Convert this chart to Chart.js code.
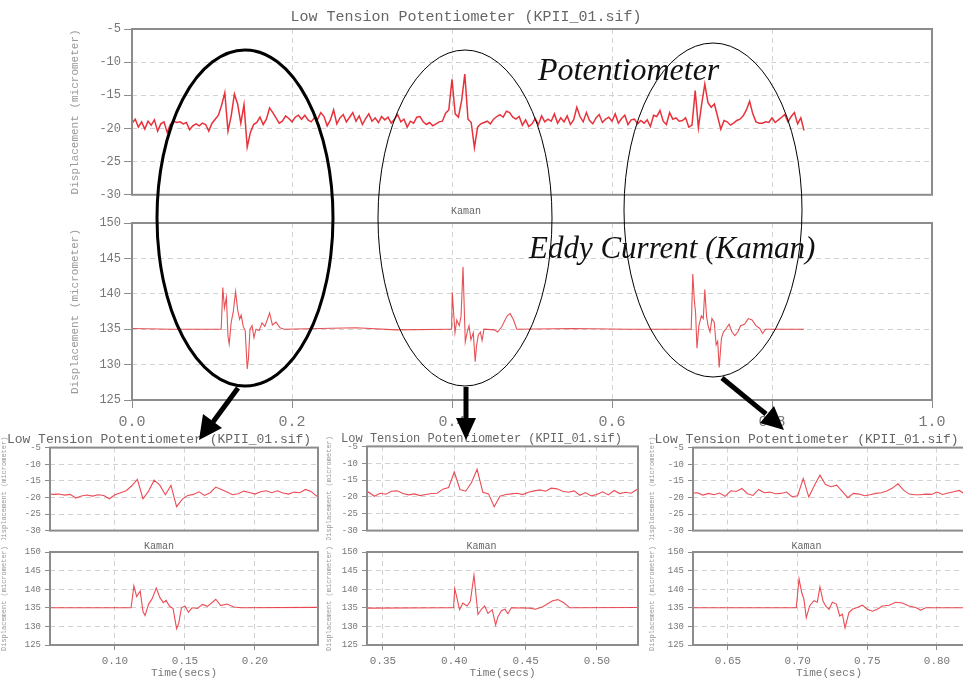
<!DOCTYPE html>
<html>
<head>
<meta charset="utf-8">
<script src="https://cdn.jsdelivr.net/npm/chart.js@4.4.1/dist/chart.umd.min.js"></script>
<style>
  html, body { margin: 0; padding: 0; background: #fff; }
  body { width: 963px; height: 686px; position: relative; overflow: hidden; }
  canvas { position: absolute; }
  svg { position: absolute; left: 0; top: 0; }
  .note { position: absolute; font-family: "Liberation Serif", "DejaVu Serif", serif; font-style: italic; color: #111; white-space: nowrap; line-height: 1; }
</style>
</head>
<body>
<canvas id="potMain" width="963" height="205" style="left:0;top:0"></canvas>
<canvas id="kamanMain" width="963" height="230" style="left:0;top:205px"></canvas>

<canvas id="pot1" width="330" height="112" style="left:0;top:428px"></canvas>
<canvas id="kaman1" width="330" height="146" style="left:0;top:540px"></canvas>
<canvas id="pot2" width="325" height="112" style="left:325px;top:428px"></canvas>
<canvas id="kaman2" width="325" height="146" style="left:325px;top:540px"></canvas>
<canvas id="pot3" width="330" height="112" style="left:648px;top:428px"></canvas>
<canvas id="kaman3" width="330" height="146" style="left:648px;top:540px"></canvas>

<svg width="963" height="686" viewBox="0 0 963 686">
  <g fill="none" stroke="#000">
    <ellipse cx="245" cy="218" rx="88" ry="168" stroke-width="3"/>
    <ellipse cx="465" cy="218" rx="87" ry="168" stroke-width="1"/>
    <ellipse cx="713" cy="210" rx="89" ry="167" stroke-width="1"/>
  </g>
  <g stroke="#000" stroke-width="5" fill="#000">
    <line x1="238" y1="388" x2="213" y2="422"/>
    <polygon points="199,440 203,414 222,428" stroke="none"/>
    <line x1="466" y1="387" x2="466" y2="420"/>
    <polygon points="466,440 456,418 476,418" stroke="none"/>
    <line x1="722" y1="378" x2="766" y2="414"/>
    <polygon points="784,430 760,423 774,406" stroke="none"/>
  </g>
</svg>
<div class="note" style="left:538px;top:53px;font-size:32px">Potentiometer</div>
<div class="note" style="left:529px;top:232px;font-size:31px">Eddy Current (Kaman)</div>

<script>
// potentiometer trace, sampled every 4 ms from t = 0
const potStart = 0;
const potStep = 0.004;
const potValues = [
  -19.2, -18.6, -19.8, -19.0, -20.1, -18.9, -19.5, -18.7, -20.4, -19.3,
  -19.0, -20.6, -19.4, -18.9, -19.1, -19.0, -19.3, -19.1, -20.2, -19.6,
  -19.3, -19.6, -19.2, -19.4, -20.4, -19.2, -18.6, -18.0, -16.5, -14.6,
  -20.4, -18.1, -14.8, -16.3, -19.2, -16.4, -22.8, -20.6, -19.4, -19.1,
  -18.3, -19.4, -18.6, -16.9, -17.6, -18.4, -19.2, -18.9, -18.1, -18.5,
  -19.0, -18.3, -18.0, -18.6, -18.0, -18.7, -19.0, -18.4, -18.6, -17.6,
  -18.2, -19.6, -18.7, -17.2, -19.3, -18.4, -17.9, -19.0, -18.3, -17.6,
  -18.9, -18.1, -19.4, -18.5, -17.8, -18.9, -18.4, -19.1, -18.2, -18.7,
  -18.3, -19.2, -18.6, -17.9, -19.0, -18.6, -19.8, -18.9, -19.2, -18.3,
  -18.2, -19.0, -19.4, -19.1, -19.6, -19.3, -19.0, -18.9, -17.7, -17.2,
  -12.6, -17.8, -18.3, -15.8, -11.8, -18.6, -19.1, -22.9, -19.8, -19.3,
  -19.1, -18.9, -19.3, -18.6, -18.2, -17.9, -18.3, -17.4, -17.6, -18.3,
  -18.6, -18.2, -19.5, -18.7, -19.7, -19.3, -18.5, -19.4, -18.1, -19.0,
  -18.6, -18.9, -17.8, -19.2, -18.4, -19.0, -18.1, -19.4, -18.7, -16.8,
  -18.2, -19.0, -17.6, -18.8, -19.3, -18.4, -17.9, -19.1, -18.6, -18.3,
  -18.9, -17.8, -19.2, -18.5, -18.0, -19.4, -18.7, -18.6, -19.3, -18.8,
  -19.2, -18.7, -19.7, -18.0, -18.2, -17.3, -18.9, -19.4, -17.6, -18.6,
  -18.4, -18.9, -18.8, -18.4, -19.8, -19.5, -14.3, -19.9, -16.4, -13.3,
  -16.1, -16.8, -16.3, -18.2, -20.1, -18.8, -19.0, -19.5, -19.2, -18.8,
  -18.6, -18.1, -17.2, -15.9, -17.8, -19.0, -19.2, -19.2, -19.0, -19.1,
  -18.4, -19.1, -18.7, -18.3, -17.9, -19.0, -18.2, -17.6, -19.3, -18.4,
  -20.3
];

// eddy current (Kaman) probe: flat between the three impacts
const kamanTimes = [
  0, 0.05, 0.1115, 0.1135, 0.1155, 0.118, 0.12, 0.1215, 0.124, 0.1265,
  0.1295, 0.132, 0.1345, 0.1365, 0.139, 0.1415, 0.144, 0.1455, 0.1475, 0.15,
  0.1525, 0.155, 0.159, 0.1625, 0.166, 0.169, 0.172, 0.1755, 0.18, 0.185,
  0.19, 0.28, 0.33,
  0.396, 0.3995, 0.4003, 0.402, 0.4037, 0.406, 0.409, 0.4113, 0.4138, 0.4155,
  0.4166, 0.419, 0.4213, 0.4236, 0.4266, 0.429, 0.4306, 0.433, 0.4355, 0.4376,
  0.44, 0.453, 0.457, 0.462, 0.469, 0.4727, 0.477, 0.481, 0.55, 0.62,
  0.699, 0.701, 0.7029, 0.7045, 0.7062, 0.7086, 0.7117, 0.7141, 0.716, 0.7182,
  0.7201, 0.7225, 0.7249, 0.7278, 0.7302, 0.7321, 0.734, 0.7368, 0.7392, 0.7428,
  0.7464, 0.75, 0.7536, 0.7572, 0.7608, 0.7656, 0.7703, 0.7751, 0.7799, 0.7847,
  0.7883, 0.7919, 0.84
];
const kamanValues = [
  135.1, 135.0, 135.0, 140.9, 138.0, 139.5, 134.0, 132.9, 136.0, 137.4,
  140.3, 137.8, 136.4, 137.0, 135.4, 134.8, 129.4, 130.8, 135.0, 135.5,
  133.8, 135.0, 134.8, 135.9, 135.4, 136.3, 137.3, 135.6, 136.0, 135.2,
  135.0, 135.2, 134.9,
  135.0, 135.0, 140.2, 137.4, 134.5, 136.3, 135.5, 136.8, 143.8, 137.3,
  133.2, 134.6, 135.5, 133.5, 134.5, 130.4, 132.6, 134.2, 134.6, 133.4,
  135.0, 134.9, 134.6, 135.3, 136.9, 137.2, 136.3, 135.0, 135.1, 135.0,
  135.0, 142.8, 139.1, 137.3, 132.3, 135.5, 136.9, 136.5, 140.6, 136.8,
  135.5, 134.6, 136.5, 136.0, 132.8, 133.3, 129.6, 133.7, 134.6, 135.1,
  135.7, 134.6, 134.1, 134.6, 135.5, 135.7, 136.5, 136.3, 135.5, 135.1,
  134.4, 135.0, 135.0
];

const potTicks = [-5, -10, -15, -20, -25, -30];
const kamanTicks = [125, 130, 135, 140, 145, 150];
// zoomed windows (secs) under each ellipse
const zoomWindows = [[0.0536, 0.2450], [0.3388, 0.5288], [0.6249, 0.8201]];

const potTitle = "Low Tension Potentiometer (KPII_01.sif)";
const yTitle = "Displacement (micrometer)";
const MONO = "'Liberation Mono', 'DejaVu Sans Mono', monospace";

const potPoints = potValues.map((v, i) => ({ x: potStart + i * potStep, y: v }));
const kamanPoints = kamanTimes.map((t, i) => ({ x: t, y: kamanValues[i] }));

// box around the plot area
const frame = {
  id: "frame",
  afterDraw(chart) {
    const a = chart.chartArea, ctx = chart.ctx;
    ctx.save();
    ctx.strokeStyle = "#8c8c8c";
    ctx.lineWidth = 2;
    ctx.strokeRect(a.left, a.top, a.right - a.left, a.bottom - a.top);
    ctx.restore();
  }
};

function panel(id, o) {
  const ticks = o.yTicks;
  return new Chart(document.getElementById(id), {
    type: "line",
    data: {
      datasets: [{
        data: o.points,
        borderColor: o.color,
        borderWidth: o.lw,
        pointRadius: 0,
        tension: 0
      }]
    },
    options: {
      responsive: false,
      animation: false,
      events: [],
      layout: { padding: o.pad },
      plugins: {
        legend: { display: false },
        tooltip: { enabled: false },
        title: {
          display: true,
          text: o.title,
          color: "#666",
          font: { family: MONO, size: o.titleSize, weight: "normal" },
          padding: o.titlePad
        }
      },
      scales: {
        x: {
          type: "linear",
          min: o.xMin,
          max: o.xMax,
          grid: { color: "#d2d2d2", drawTicks: o.showX, tickLength: o.tickLen, tickColor: "#8c8c8c" },
          border: { display: false, dash: [5, 4] },
          ticks: {
            display: o.showX,
            stepSize: o.xStep,
            includeBounds: false,
            color: "#777",
            font: { family: MONO, size: o.xFont },
            padding: o.xPad,
            maxRotation: 0,
            callback: v => v.toFixed(o.xDec)
          },
          title: {
            display: !!o.xTitle,
            text: o.xTitle,
            color: "#777",
            font: { family: MONO, size: o.xFont },
            padding: { top: 0, bottom: o.xTitlePad }
          },
          afterFit: s => { s.height = o.xAxisH; }
        },
        y: {
          min: Math.min(...ticks),
          max: Math.max(...ticks),
          grid: { color: "#d2d2d2", tickLength: o.tickLen, tickColor: "#8c8c8c" },
          border: { display: false, dash: [5, 4] },
          ticks: {
            stepSize: 5,
            color: "#777",
            font: { family: MONO, size: o.yFont },
            padding: o.yPad,
            callback: v => String(v)
          },
          title: {
            display: true,
            text: yTitle,
            color: "#999",
            font: { family: MONO, size: o.yTitleFont },
            padding: { top: o.yTitleOff, bottom: 0 }
          },
          afterFit: s => { s.width = o.yAxisW; }
        }
      }
    },
    plugins: [frame]
  });
}

// overview: whole record
panel("potMain", {
  points: potPoints, color: "rgba(228,28,38,0.9)", lw: 1.5, yTicks: potTicks,
  title: potTitle, titleSize: 15, titlePad: { top: 8, bottom: 3 },
  pad: { top: 0, left: 0, right: 31, bottom: 3 },
  xMin: 0, xMax: 1, xStep: 0.2, xDec: 1, showX: false, xAxisH: 0, xFont: 15, xPad: 5,
  yAxisW: 132, yFont: 12, yPad: 3, tickLen: 8, yTitleFont: 11, yTitleOff: 68
});
panel("kamanMain", {
  points: kamanPoints, color: "rgba(226,50,55,0.85)", lw: 1.1, yTicks: kamanTicks,
  title: "Kaman", titleSize: 10, titlePad: { top: 0, bottom: 6 },
  pad: { top: 0, left: 0, right: 31, bottom: 0 },
  xMin: 0, xMax: 1, xStep: 0.2, xDec: 1, showX: true, xAxisH: 35, xFont: 15, xPad: 5,
  yAxisW: 132, yFont: 12, yPad: 3, tickLen: 8, yTitleFont: 11, yTitleOff: 68
});

// close-ups of the three impacts
const axisWidths = [50, 42, 45];
const rightPads = [12, 12, 13];
zoomWindows.forEach((w, k) => {
  const n = k + 1;
  panel("pot" + n, {
    points: potPoints, color: "rgba(232,45,55,0.85)", lw: 1.1, yTicks: potTicks,
    title: potTitle, titleSize: k === 1 ? 12 : 13, titlePad: { top: 4, bottom: 0 },
    pad: { top: 0, left: 0, right: rightPads[k], bottom: 3 },
    xMin: w[0], xMax: w[1], xStep: 0.05, xDec: 2, showX: false, xAxisH: 0, xFont: 11, xPad: 4,
    yAxisW: axisWidths[k], yFont: 9, yPad: 4, tickLen: 5, yTitleFont: 7, yTitleOff: 0
  });
  panel("kaman" + n, {
    points: kamanPoints, color: "rgba(232,45,55,0.85)", lw: 1.1, yTicks: kamanTicks,
    title: "Kaman", titleSize: 10, titlePad: { top: 0, bottom: 0 },
    pad: { top: 0, left: 0, right: rightPads[k], bottom: 0 },
    xMin: w[0], xMax: w[1], xStep: 0.05, xDec: 2, showX: true, xAxisH: 41, xFont: 11, xPad: 4,
    xTitle: "Time(secs)", xTitlePad: 6,
    yAxisW: axisWidths[k], yFont: 9, yPad: 4, tickLen: 5, yTitleFont: 7, yTitleOff: 0
  });
});
</script>
</body>
</html>
